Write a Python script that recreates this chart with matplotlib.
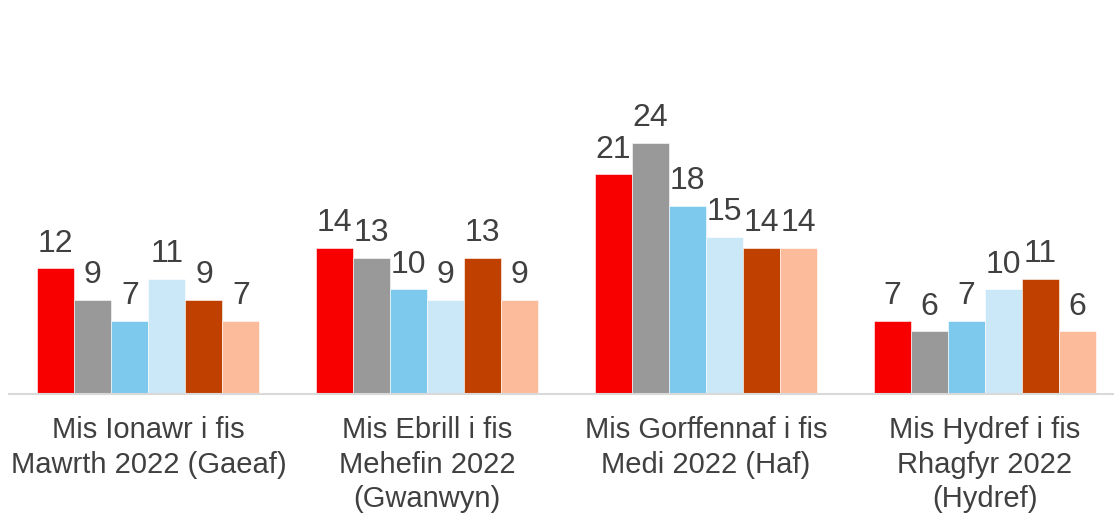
import numpy as np
import matplotlib as mpl
import matplotlib.pyplot as plt

mpl.use("Agg")
plt.rcParams['font.family'] = ['Liberation Sans', 'DejaVu Sans']

# Chart data
categories = ["Mis Ionawr i fis\nMawrth 2022 (Gaeaf)",
              "Mis Ebrill i fis\nMehefin 2022\n(Gwanwyn)",
              "Mis Gorffennaf i fis\nMedi 2022 (Haf)",
              "Mis Hydref i fis\nRhagfyr 2022\n(Hydref)"]
series_1 = [12, 14, 21, 7]
series_2 = [9, 13, 24, 6]
series_3 = [7, 10, 18, 7]
series_4 = [11, 9, 15, 10]
series_5 = [9, 13, 14, 11]
series_6 = [7, 9, 14, 6]

all_series = [series_1, series_2, series_3, series_4, series_5, series_6]
colors = ["#F80000", "#999999", "#7DC9EE", "#CAE8F8", "#C04000", "#FCBC9C"]
text_color = "#404040"

fig = plt.figure(figsize=(11.14, 5.13), dpi=100)
ax = fig.add_axes([9 / 1114, 119 / 513, 1115 / 1114, 313.8 / 513])

x = np.arange(len(categories))
width = 0.1328
n = len(all_series)

for i, (vals, col) in enumerate(zip(all_series, colors)):
    pos = x + (i - (n - 1) / 2) * width
    bars = ax.bar(pos, vals, width, color=col, edgecolor="white", linewidth=0.4)
    for b, v in zip(bars, vals):
        ax.annotate(str(v), (b.get_x() + b.get_width() / 2, v),
                    xytext=(0, 12), textcoords="offset points",
                    ha="center", va="baseline", fontsize=23, color=text_color)

ax.set_xlim(-0.5, 3.5)
ax.set_ylim(0, 30)
ax.set_xticks(x)
ax.set_xticklabels(categories, fontsize=21, color=text_color, linespacing=1.3)
ax.tick_params(axis="x", length=0, pad=16)
ax.set_yticks([])
for side in ["top", "right", "left"]:
    ax.spines[side].set_visible(False)
ax.spines["bottom"].set_color("#D9D9D9")
ax.spines["bottom"].set_linewidth(1.5)

plt.savefig("out.png", dpi=100)
